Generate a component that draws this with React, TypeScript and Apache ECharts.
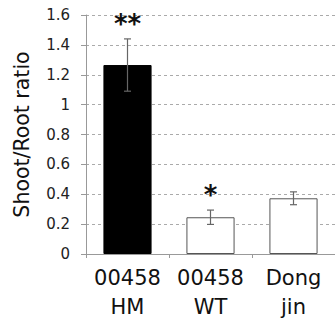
import React, { useEffect, useRef } from "react";
import * as echarts from "echarts";

const categories = ["00458\nHM", "00458\nWT", "Dong\njin"];
const values = [1.265, 0.246, 0.373];
const errors = [0.175, 0.048, 0.043];
const marks = ["**", "*", ""];
const barColors = ["#000000", "#ffffff", "#ffffff"];
const barBorders = ["#000000", "#555555", "#555555"];

export default function App() {
  const ref = useRef<HTMLDivElement>(null);
  useEffect(() => {
    const chart = echarts.init(ref.current!, null, { renderer: "svg" });
    const font = "DejaVu Sans";
    chart.setOption({
      animation: false,
      grid: { left: 86, top: 15, bottom: 73, width: 252 },
      xAxis: {
        type: "category",
        data: categories,
        axisLine: { lineStyle: { color: "#999", width: 1 } },
        axisTick: { show: true, length: 4, lineStyle: { color: "#999" } },
        axisLabel: {
          interval: 0,
          hideOverlap: false,
          fontFamily: font,
          fontSize: 21,
          color: "#111",
          lineHeight: 29,
          margin: 9,
        },
      },
      yAxis: {
        type: "value",
        min: 0,
        max: 1.6,
        interval: 0.2,
        name: "Shoot/Root ratio",
        nameLocation: "middle",
        nameGap: 54,
        nameTextStyle: { fontFamily: font, fontSize: 20.5, color: "#111" },
        axisLine: { show: true, lineStyle: { color: "#999", width: 1 } },
        axisTick: { show: true, length: 5, lineStyle: { color: "#999" } },
        axisLabel: {
          fontFamily: font,
          fontSize: 15,
          color: "#222",
          margin: 16,
        },
        splitLine: { lineStyle: { color: "#aaa", type: [3, 3] } },
      },
      series: [
        {
          type: "bar",
          barWidth: "58%",
          data: values.map((v, i) => ({
            value: v,
            itemStyle: {
              color: barColors[i],
              borderColor: barBorders[i],
              borderWidth: 1,
            },
          })),
        },
        {
          type: "custom",
          data: values.map((v, i) => [i, v, errors[i]]),
          z: 10,
          renderItem: (params: any, api: any) => {
            const i = api.value(0);
            const v = api.value(1);
            const e = api.value(2);
            const top = api.coord([i, v + e]);
            const bot = api.coord([i, v - e]);
            const cap = 3.5;
            const children: any[] = [
              { type: "line", shape: { x1: top[0], y1: top[1], x2: bot[0], y2: bot[1] }, style: { stroke: "#666", lineWidth: 1.2 } },
              { type: "line", shape: { x1: top[0] - cap, y1: top[1], x2: top[0] + cap, y2: top[1] }, style: { stroke: "#666", lineWidth: 1.2 } },
              { type: "line", shape: { x1: bot[0] - cap, y1: bot[1], x2: bot[0] + cap, y2: bot[1] }, style: { stroke: "#666", lineWidth: 1.2 } },
            ];
            const m = marks[params.dataIndex];
            if (m) {
              children.push({
                type: "text",
                style: {
                  text: m,
                  x: top[0],
                  y: top[1] - 2,
                  align: "center",
                  verticalAlign: "bottom",
                  fontFamily: font,
                  fontSize: 26,
                  fontWeight: "bold",
                  fill: "#111",
                },
              });
            }
            return { type: "group", children };
          },
        },
      ],
    });
    return () => chart.dispose();
  }, []);
  return <div ref={ref} style={{ width: 335, height: 327, position: "absolute", left: 0, top: 0, background: "#fff" }} />;
}
